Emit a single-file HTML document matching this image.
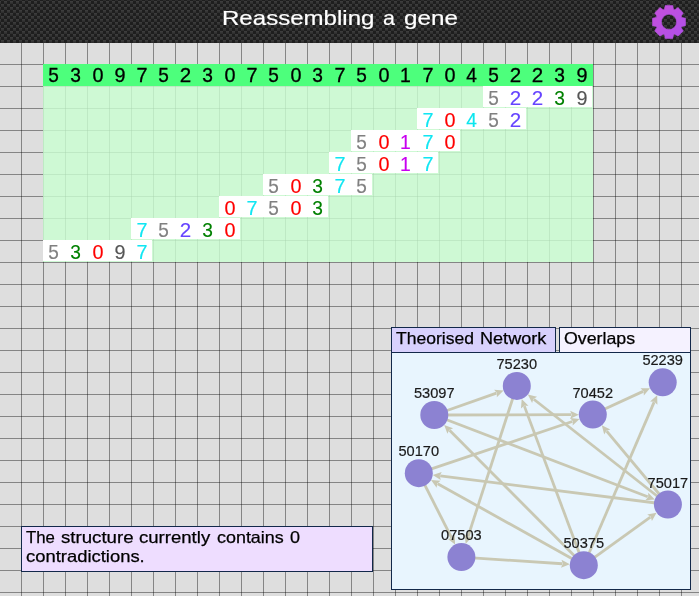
<!DOCTYPE html>
<html><head><meta charset="utf-8"><title>Reassembling a gene</title>
<style>
html,body{margin:0;padding:0;}
body{width:699px;height:596px;overflow:hidden;position:relative;background:#dedede;font-family:"Liberation Sans", sans-serif;}
#grid{position:absolute;left:0;top:43px;width:699px;height:553px;background-color:#dedede;
 background-image:linear-gradient(to right,transparent 21px,rgba(0,0,0,0.4) 21px),linear-gradient(to bottom,transparent 21px,rgba(0,0,0,0.4) 21px);
 background-size:22px 22px;}
#hdr{position:absolute;left:0;top:0;width:699px;height:43px;background:#232323;overflow:hidden;}
#hdr svg.tex{position:absolute;left:0;top:0;}
#txt{position:absolute;left:0;top:0;width:699px;height:596px;will-change:transform;}
.w{display:block;white-space:nowrap;transform-origin:0 0;position:absolute;-webkit-text-stroke:0.25px currentColor;}
#zone{position:absolute;left:43px;top:64px;width:550px;height:198px;background:rgba(203,255,210,0.82);}
#bar{position:absolute;left:0;top:0;width:550px;height:22px;background:#4dff7c;}
.d{position:absolute;width:22px;height:22px;line-height:22px;text-align:center;font-size:19.8px;color:#000;-webkit-text-stroke:0.3px currentColor;}
.d span{display:inline-block;}
.fr{position:absolute;background:#fff;height:21px;}
#msg{position:absolute;left:21px;top:526px;width:350px;height:44px;border:1px solid #12284a;background:#eeddff;}
#tab1,#tab2{position:absolute;top:327px;height:24px;border:1px solid #12284a;}
#tab1{left:391px;width:163px;background:#d8d1fd;}
#tab2{left:559px;width:130px;background:#f5f2ff;}
#panel{position:absolute;left:391px;top:352px;width:298px;height:236px;border:1px solid #12284a;background:#e8f5fe;overflow:hidden;}
</style></head><body>
<div id="grid"></div>
<div id="hdr"><svg class="tex" width="699" height="43" viewBox="0 0 699 43"><defs>
<linearGradient id="lg" x1="0" y1="0" x2="0" y2="1"><stop offset="0" stop-color="#404040"/><stop offset="1" stop-color="#2b2b2b"/></linearGradient>
<pattern id="cf" x="1" y="1" width="6" height="6" patternUnits="userSpaceOnUse"><rect width="6" height="6" fill="#1e1e1e"/><rect x="3" y="0" width="3" height="3" fill="url(#lg)"/><rect x="0" y="3" width="3" height="3" fill="url(#lg)"/></pattern></defs>
<rect width="699" height="43" fill="url(#cf)"/></svg>
<svg style="position:absolute;left:0;top:0" width="699" height="43" viewBox="0 0 699 43"><defs><linearGradient id="gg" x1="0" y1="0" x2="1" y2="1"><stop offset="0" stop-color="#c650da"/><stop offset="1" stop-color="#ae50ea"/></linearGradient></defs><path d="M664.49 9.17 L665.26 5.42 L672.74 5.42 L673.51 9.17 L674.81 9.72 L678.01 7.60 L683.30 12.89 L681.18 16.09 L681.73 17.39 L685.48 18.16 L685.48 25.64 L681.73 26.41 L681.18 27.71 L683.30 30.91 L678.01 36.20 L674.81 34.08 L673.51 34.63 L672.74 38.38 L665.26 38.38 L664.49 34.63 L663.19 34.08 L659.99 36.20 L654.70 30.91 L656.82 27.71 L656.27 26.41 L652.52 25.64 L652.52 18.16 L656.27 17.39 L656.82 16.09 L654.70 12.89 L659.99 7.60 L663.19 9.72 Z M661.40 21.90 a7.60 7.60 0 1 0 15.20 0 a7.60 7.60 0 1 0 -15.20 0 Z" fill="url(#gg)" fill-rule="evenodd" stroke="#b94fe4" stroke-width="0.6" stroke-linejoin="round"/></svg>
</div>
<div id="zone"><div id="bar"></div>
<div class="fr" style="left:440px;top:22px;width:109px"></div><div class="fr" style="left:374px;top:44px;width:109px"></div><div class="fr" style="left:308px;top:66px;width:109px"></div><div class="fr" style="left:286px;top:88px;width:109px"></div><div class="fr" style="left:220px;top:110px;width:109px"></div><div class="fr" style="left:176px;top:132px;width:109px"></div><div class="fr" style="left:88px;top:154px;width:109px"></div><div class="fr" style="left:0px;top:176px;width:109px"></div></div>
<div id="msg"></div>
<div id="tab1"></div>
<div id="tab2"></div>
<div id="panel"><svg width="298" height="236" viewBox="392 353 298 236" style="position:absolute;left:0;top:0">
<line x1="434.30" y1="415.00" x2="496.43" y2="393.09" stroke="#c9c8b3" stroke-width="2.8"/>
<path d="M503.60 390.56 L496.82 397.19 L496.90 392.92 L494.16 389.65 Z" fill="#c9c8b3"/>
<line x1="434.30" y1="415.00" x2="647.73" y2="496.77" stroke="#c9c8b3" stroke-width="2.8"/>
<path d="M654.83 499.49 L645.36 500.15 L648.20 496.95 L648.23 492.68 Z" fill="#c9c8b3"/>
<line x1="434.30" y1="415.00" x2="571.20" y2="414.65" stroke="#c9c8b3" stroke-width="2.8"/>
<path d="M578.80 414.64 L570.21 418.66 L571.70 414.65 L570.19 410.66 Z" fill="#c9c8b3"/>
<line x1="516.80" y1="385.90" x2="468.05" y2="536.55" stroke="#c9c8b3" stroke-width="2.8"/>
<path d="M465.71 543.78 L464.55 534.37 L467.90 537.02 L472.16 536.83 Z" fill="#c9c8b3"/>
<line x1="461.40" y1="557.10" x2="562.25" y2="563.77" stroke="#c9c8b3" stroke-width="2.8"/>
<path d="M569.83 564.28 L560.99 567.70 L562.75 563.81 L561.51 559.72 Z" fill="#c9c8b3"/>
<line x1="583.80" y1="565.20" x2="449.54" y2="430.31" stroke="#c9c8b3" stroke-width="2.8"/>
<path d="M444.18 424.92 L453.08 428.20 L449.19 429.95 L447.41 433.84 Z" fill="#c9c8b3"/>
<line x1="583.80" y1="565.20" x2="437.67" y2="483.72" stroke="#c9c8b3" stroke-width="2.8"/>
<path d="M431.03 480.02 L440.49 480.71 L437.23 483.48 L436.59 487.70 Z" fill="#c9c8b3"/>
<line x1="583.80" y1="565.20" x2="654.14" y2="402.13" stroke="#c9c8b3" stroke-width="2.8"/>
<path d="M657.15 395.15 L657.42 404.64 L654.34 401.67 L650.08 401.47 Z" fill="#c9c8b3"/>
<line x1="583.80" y1="565.20" x2="524.36" y2="406.13" stroke="#c9c8b3" stroke-width="2.8"/>
<path d="M521.70 399.01 L528.46 405.67 L524.19 405.67 L520.96 408.47 Z" fill="#c9c8b3"/>
<line x1="583.80" y1="565.20" x2="650.39" y2="517.14" stroke="#c9c8b3" stroke-width="2.8"/>
<path d="M656.55 512.69 L651.92 520.97 L650.79 516.85 L647.23 514.48 Z" fill="#c9c8b3"/>
<line x1="667.90" y1="504.50" x2="533.79" y2="399.24" stroke="#c9c8b3" stroke-width="2.8"/>
<path d="M527.81 394.54 L537.05 396.71 L533.40 398.93 L532.11 403.00 Z" fill="#c9c8b3"/>
<line x1="667.90" y1="504.50" x2="606.65" y2="431.18" stroke="#c9c8b3" stroke-width="2.8"/>
<path d="M601.78 425.34 L610.36 429.38 L606.33 430.79 L604.22 434.51 Z" fill="#c9c8b3"/>
<line x1="667.90" y1="504.50" x2="440.23" y2="475.89" stroke="#c9c8b3" stroke-width="2.8"/>
<path d="M432.69 474.95 L441.72 472.05 L439.74 475.83 L440.72 479.99 Z" fill="#c9c8b3"/>
<line x1="418.80" y1="473.20" x2="451.62" y2="537.84" stroke="#c9c8b3" stroke-width="2.8"/>
<path d="M455.06 544.62 L447.60 538.76 L451.85 538.29 L454.73 535.14 Z" fill="#c9c8b3"/>
<line x1="418.80" y1="473.20" x2="572.33" y2="421.49" stroke="#c9c8b3" stroke-width="2.8"/>
<path d="M579.53 419.07 L572.66 425.60 L572.80 421.33 L570.11 418.02 Z" fill="#c9c8b3"/>
<line x1="592.80" y1="414.60" x2="643.09" y2="391.36" stroke="#c9c8b3" stroke-width="2.8"/>
<path d="M649.99 388.17 L643.86 395.41 L643.55 391.15 L640.51 388.15 Z" fill="#c9c8b3"/>
<circle cx="516.80" cy="385.90" r="14" fill="#8c82d2"/>
<circle cx="434.30" cy="415.00" r="14" fill="#8c82d2"/>
<circle cx="592.80" cy="414.60" r="14" fill="#8c82d2"/>
<circle cx="662.70" cy="382.30" r="14" fill="#8c82d2"/>
<circle cx="418.80" cy="473.20" r="14" fill="#8c82d2"/>
<circle cx="667.90" cy="504.50" r="14" fill="#8c82d2"/>
<circle cx="461.40" cy="557.10" r="14" fill="#8c82d2"/>
<circle cx="583.80" cy="565.20" r="14" fill="#8c82d2"/>
</svg></div>
<div id="txt">
<span class="w" style="left:221.62px;top:4.92px;font-size:21.0px;line-height:25px;color:#fff;transform:scaleX(1.1455);-webkit-text-stroke-width:0.2px">Reassembling</span>
<span class="w" style="left:383.03px;top:4.92px;font-size:21.0px;line-height:25px;color:#fff;transform:scaleX(1.0218);-webkit-text-stroke-width:0.2px">a</span>
<span class="w" style="left:403.74px;top:4.92px;font-size:21.0px;line-height:25px;color:#fff;transform:scaleX(1.1524);-webkit-text-stroke-width:0.2px">gene</span>
<span class="w" style="left:26.14px;top:527.28px;font-size:16.5px;line-height:20px;color:#000;transform:scaleX(1.0180)">The</span>
<span class="w" style="left:61.41px;top:527.28px;font-size:16.5px;line-height:20px;color:#000;transform:scaleX(1.1302)">structure</span>
<span class="w" style="left:139.22px;top:527.28px;font-size:16.5px;line-height:20px;color:#000;transform:scaleX(1.1250)">currently</span>
<span class="w" style="left:217.04px;top:527.28px;font-size:16.5px;line-height:20px;color:#000;transform:scaleX(1.0856)">contains</span>
<span class="w" style="left:289.64px;top:527.28px;font-size:16.5px;line-height:20px;color:#000;transform:scaleX(1.0909)">0</span>
<span class="w" style="left:26.02px;top:546.28px;font-size:16.5px;line-height:20px;color:#000;transform:scaleX(1.1161)">contradictions.</span>
<span class="w" style="left:396.33px;top:328.08px;font-size:16.5px;line-height:20px;color:#000;transform:scaleX(1.0639)">Theorised</span>
<span class="w" style="left:479.79px;top:328.08px;font-size:16.5px;line-height:20px;color:#000;transform:scaleX(1.0961)">Network</span>
<span class="w" style="left:563.97px;top:328.08px;font-size:16.5px;line-height:20px;color:#000;transform:scaleX(1.0767)">Overlaps</span>
<div class="d" style="left:43.0px;top:64.3px"><span style="transform:scaleX(0.96)">5</span></div><div class="d" style="left:65.0px;top:64.3px"><span style="transform:scaleX(0.97)">3</span></div><div class="d" style="left:87.0px;top:64.3px"><span style="transform:scaleX(1.0)">0</span></div><div class="d" style="left:109.0px;top:64.3px"><span style="transform:scaleX(1.0)">9</span></div><div class="d" style="left:131.0px;top:64.3px"><span style="transform:scaleX(1.0)">7</span></div><div class="d" style="left:153.0px;top:64.3px"><span style="transform:scaleX(0.96)">5</span></div><div class="d" style="left:175.0px;top:64.3px"><span style="transform:scaleX(1.04)">2</span></div><div class="d" style="left:197.0px;top:64.3px"><span style="transform:scaleX(0.97)">3</span></div><div class="d" style="left:219.0px;top:64.3px"><span style="transform:scaleX(1.0)">0</span></div><div class="d" style="left:241.0px;top:64.3px"><span style="transform:scaleX(1.0)">7</span></div><div class="d" style="left:263.0px;top:64.3px"><span style="transform:scaleX(0.96)">5</span></div><div class="d" style="left:285.0px;top:64.3px"><span style="transform:scaleX(1.0)">0</span></div><div class="d" style="left:307.0px;top:64.3px"><span style="transform:scaleX(0.97)">3</span></div><div class="d" style="left:329.0px;top:64.3px"><span style="transform:scaleX(1.0)">7</span></div><div class="d" style="left:351.0px;top:64.3px"><span style="transform:scaleX(0.96)">5</span></div><div class="d" style="left:373.0px;top:64.3px"><span style="transform:scaleX(1.0)">0</span></div><div class="d" style="left:395.0px;top:64.3px"><span style="transform:scaleX(0.98)">1</span></div><div class="d" style="left:417.0px;top:64.3px"><span style="transform:scaleX(1.0)">7</span></div><div class="d" style="left:439.0px;top:64.3px"><span style="transform:scaleX(1.0)">0</span></div><div class="d" style="left:461.0px;top:64.3px"><span style="transform:scaleX(0.97)">4</span></div><div class="d" style="left:483.0px;top:64.3px"><span style="transform:scaleX(0.96)">5</span></div><div class="d" style="left:505.0px;top:64.3px"><span style="transform:scaleX(1.04)">2</span></div><div class="d" style="left:527.0px;top:64.3px"><span style="transform:scaleX(1.04)">2</span></div><div class="d" style="left:549.0px;top:64.3px"><span style="transform:scaleX(0.97)">3</span></div><div class="d" style="left:571.0px;top:64.3px"><span style="transform:scaleX(1.0)">9</span></div>
<div class="d" style="left:483.0px;top:87.0px;color:#808080;-webkit-text-stroke-width:0.15px"><span style="transform:scaleX(0.96)">5</span></div><div class="d" style="left:505.0px;top:87.0px;color:#6644ff;-webkit-text-stroke-width:0.15px"><span style="transform:scaleX(1.04)">2</span></div><div class="d" style="left:527.0px;top:87.0px;color:#6644ff;-webkit-text-stroke-width:0.15px"><span style="transform:scaleX(1.04)">2</span></div><div class="d" style="left:549.0px;top:87.0px;color:#008000;-webkit-text-stroke-width:0.15px"><span style="transform:scaleX(0.97)">3</span></div><div class="d" style="left:571.0px;top:87.0px;color:#555555;-webkit-text-stroke-width:0.15px"><span style="transform:scaleX(1.0)">9</span></div>
<div class="d" style="left:417.0px;top:109.0px;color:#10e6f2;-webkit-text-stroke-width:0.15px"><span style="transform:scaleX(1.0)">7</span></div><div class="d" style="left:439.0px;top:109.0px;color:#ff0000;-webkit-text-stroke-width:0.15px"><span style="transform:scaleX(1.0)">0</span></div><div class="d" style="left:461.0px;top:109.0px;color:#0be6ee;-webkit-text-stroke-width:0.15px"><span style="transform:scaleX(0.97)">4</span></div><div class="d" style="left:483.0px;top:109.0px;color:#808080;-webkit-text-stroke-width:0.15px"><span style="transform:scaleX(0.96)">5</span></div><div class="d" style="left:505.0px;top:109.0px;color:#6644ff;-webkit-text-stroke-width:0.15px"><span style="transform:scaleX(1.04)">2</span></div>
<div class="d" style="left:351.0px;top:131.0px;color:#808080;-webkit-text-stroke-width:0.15px"><span style="transform:scaleX(0.96)">5</span></div><div class="d" style="left:373.0px;top:131.0px;color:#ff0000;-webkit-text-stroke-width:0.15px"><span style="transform:scaleX(1.0)">0</span></div><div class="d" style="left:395.0px;top:131.0px;color:#c800f0;-webkit-text-stroke-width:0.15px"><span style="transform:scaleX(0.98)">1</span></div><div class="d" style="left:417.0px;top:131.0px;color:#10e6f2;-webkit-text-stroke-width:0.15px"><span style="transform:scaleX(1.0)">7</span></div><div class="d" style="left:439.0px;top:131.0px;color:#ff0000;-webkit-text-stroke-width:0.15px"><span style="transform:scaleX(1.0)">0</span></div>
<div class="d" style="left:329.0px;top:153.0px;color:#10e6f2;-webkit-text-stroke-width:0.15px"><span style="transform:scaleX(1.0)">7</span></div><div class="d" style="left:351.0px;top:153.0px;color:#808080;-webkit-text-stroke-width:0.15px"><span style="transform:scaleX(0.96)">5</span></div><div class="d" style="left:373.0px;top:153.0px;color:#ff0000;-webkit-text-stroke-width:0.15px"><span style="transform:scaleX(1.0)">0</span></div><div class="d" style="left:395.0px;top:153.0px;color:#c800f0;-webkit-text-stroke-width:0.15px"><span style="transform:scaleX(0.98)">1</span></div><div class="d" style="left:417.0px;top:153.0px;color:#10e6f2;-webkit-text-stroke-width:0.15px"><span style="transform:scaleX(1.0)">7</span></div>
<div class="d" style="left:263.0px;top:175.0px;color:#808080;-webkit-text-stroke-width:0.15px"><span style="transform:scaleX(0.96)">5</span></div><div class="d" style="left:285.0px;top:175.0px;color:#ff0000;-webkit-text-stroke-width:0.15px"><span style="transform:scaleX(1.0)">0</span></div><div class="d" style="left:307.0px;top:175.0px;color:#008000;-webkit-text-stroke-width:0.15px"><span style="transform:scaleX(0.97)">3</span></div><div class="d" style="left:329.0px;top:175.0px;color:#10e6f2;-webkit-text-stroke-width:0.15px"><span style="transform:scaleX(1.0)">7</span></div><div class="d" style="left:351.0px;top:175.0px;color:#808080;-webkit-text-stroke-width:0.15px"><span style="transform:scaleX(0.96)">5</span></div>
<div class="d" style="left:219.0px;top:197.0px;color:#ff0000;-webkit-text-stroke-width:0.15px"><span style="transform:scaleX(1.0)">0</span></div><div class="d" style="left:241.0px;top:197.0px;color:#10e6f2;-webkit-text-stroke-width:0.15px"><span style="transform:scaleX(1.0)">7</span></div><div class="d" style="left:263.0px;top:197.0px;color:#808080;-webkit-text-stroke-width:0.15px"><span style="transform:scaleX(0.96)">5</span></div><div class="d" style="left:285.0px;top:197.0px;color:#ff0000;-webkit-text-stroke-width:0.15px"><span style="transform:scaleX(1.0)">0</span></div><div class="d" style="left:307.0px;top:197.0px;color:#008000;-webkit-text-stroke-width:0.15px"><span style="transform:scaleX(0.97)">3</span></div>
<div class="d" style="left:131.0px;top:219.0px;color:#10e6f2;-webkit-text-stroke-width:0.15px"><span style="transform:scaleX(1.0)">7</span></div><div class="d" style="left:153.0px;top:219.0px;color:#808080;-webkit-text-stroke-width:0.15px"><span style="transform:scaleX(0.96)">5</span></div><div class="d" style="left:175.0px;top:219.0px;color:#6644ff;-webkit-text-stroke-width:0.15px"><span style="transform:scaleX(1.04)">2</span></div><div class="d" style="left:197.0px;top:219.0px;color:#008000;-webkit-text-stroke-width:0.15px"><span style="transform:scaleX(0.97)">3</span></div><div class="d" style="left:219.0px;top:219.0px;color:#ff0000;-webkit-text-stroke-width:0.15px"><span style="transform:scaleX(1.0)">0</span></div>
<div class="d" style="left:43.0px;top:241.0px;color:#808080;-webkit-text-stroke-width:0.15px"><span style="transform:scaleX(0.96)">5</span></div><div class="d" style="left:65.0px;top:241.0px;color:#008000;-webkit-text-stroke-width:0.15px"><span style="transform:scaleX(0.97)">3</span></div><div class="d" style="left:87.0px;top:241.0px;color:#ff0000;-webkit-text-stroke-width:0.15px"><span style="transform:scaleX(1.0)">0</span></div><div class="d" style="left:109.0px;top:241.0px;color:#555555;-webkit-text-stroke-width:0.15px"><span style="transform:scaleX(1.0)">9</span></div><div class="d" style="left:131.0px;top:241.0px;color:#10e6f2;-webkit-text-stroke-width:0.15px"><span style="transform:scaleX(1.0)">7</span></div>
<div class="w" style="left:486.80px;top:355.90px;width:60px;text-align:center;font-size:14.6px;line-height:16px;color:#1a1a1a;-webkit-text-stroke:0.2px #1a1a1a">75230</div><div class="w" style="left:404.30px;top:385.00px;width:60px;text-align:center;font-size:14.6px;line-height:16px;color:#1a1a1a;-webkit-text-stroke:0.2px #1a1a1a">53097</div><div class="w" style="left:562.80px;top:384.60px;width:60px;text-align:center;font-size:14.6px;line-height:16px;color:#1a1a1a;-webkit-text-stroke:0.2px #1a1a1a">70452</div><div class="w" style="left:632.70px;top:352.30px;width:60px;text-align:center;font-size:14.6px;line-height:16px;color:#1a1a1a;-webkit-text-stroke:0.2px #1a1a1a">52239</div><div class="w" style="left:388.80px;top:443.20px;width:60px;text-align:center;font-size:14.6px;line-height:16px;color:#1a1a1a;-webkit-text-stroke:0.2px #1a1a1a">50170</div><div class="w" style="left:637.90px;top:474.50px;width:60px;text-align:center;font-size:14.6px;line-height:16px;color:#1a1a1a;-webkit-text-stroke:0.2px #1a1a1a">75017</div><div class="w" style="left:431.40px;top:527.10px;width:60px;text-align:center;font-size:14.6px;line-height:16px;color:#1a1a1a;-webkit-text-stroke:0.2px #1a1a1a">07503</div><div class="w" style="left:553.80px;top:535.20px;width:60px;text-align:center;font-size:14.6px;line-height:16px;color:#1a1a1a;-webkit-text-stroke:0.2px #1a1a1a">50375</div>
</div>
</body></html>
